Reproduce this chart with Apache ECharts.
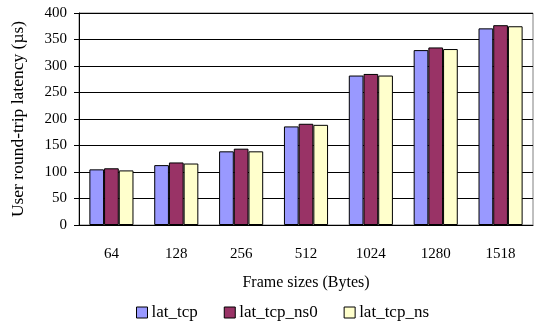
<!DOCTYPE html>
<html><head><meta charset="utf-8">
<script src="https://cdn.jsdelivr.net/npm/echarts@6/dist/echarts.min.js"></script>
<style>html,body{margin:0;padding:0;background:#fff}#c{width:538px;height:324px}</style>
</head><body><div id="c"></div>
<script>
const categories = ['64','128','256','512','1024','1280','1518'];
const latTcp = [105, 113, 139, 186, 282, 330, 371];
const latTcpNs0 = [107, 118, 144, 191, 285, 335, 377];
const latTcpNs = [103, 116, 139, 189, 282, 332, 375];
const seriesNames = ['lat_tcp','lat_tcp_ns0','lat_tcp_ns'];
const colors = ['#9999FF','#993366','#FFFFCC'];
const font = 'Liberation Serif';
const chart = echarts.init(document.getElementById('c'));
const mk = (name, data, i) => ({
  name, type:'bar', data, barGap:'0%', barCategoryGap:'32%',
  itemStyle:{color:colors[i], borderColor:'#000', borderWidth:1},
  emphasis:{disabled:true}
});
chart.setOption({
  animation:false,
  textStyle:{fontFamily:font},
  grid:{left:79, top:13, right:5, bottom:99, show:true, borderColor:'#808080', borderWidth:1},
  xAxis:{type:'category', data:categories,
    name:'Frame sizes (Bytes)', nameLocation:'middle', nameGap:50,
    nameTextStyle:{fontFamily:font, fontSize:16, color:'#000'},
    axisLine:{lineStyle:{color:'#000'}},
    axisTick:{inside:true, length:5, lineStyle:{color:'#000'}},
    axisLabel:{fontFamily:font, fontSize:15, color:'#000', margin:22}},
  yAxis:{type:'value', min:0, max:400, interval:50,
    name:'User round-trip latency (µs)', nameLocation:'middle', nameGap:52,
    nameTextStyle:{fontFamily:font, fontSize:17.5, color:'#000'},
    axisLine:{show:true, lineStyle:{color:'#000'}},
    axisTick:{show:true, length:5, lineStyle:{color:'#000'}},
    splitLine:{lineStyle:{color:'#000'}},
    axisLabel:{fontFamily:font, fontSize:15, color:'#000', margin:12}},
  legend:{top:304, left:136, padding:0, icon:'rect', itemWidth:11, itemHeight:11, itemGap:26,
    data:seriesNames,
    itemStyle:{borderColor:'#000', borderWidth:1},
    textStyle:{fontFamily:font, fontSize:17, color:'#000', padding:[0,0,0,-1]}},
  series:[mk(seriesNames[0], latTcp, 0), mk(seriesNames[1], latTcpNs0, 1), mk(seriesNames[2], latTcpNs, 2)]
});
</script></body></html>
